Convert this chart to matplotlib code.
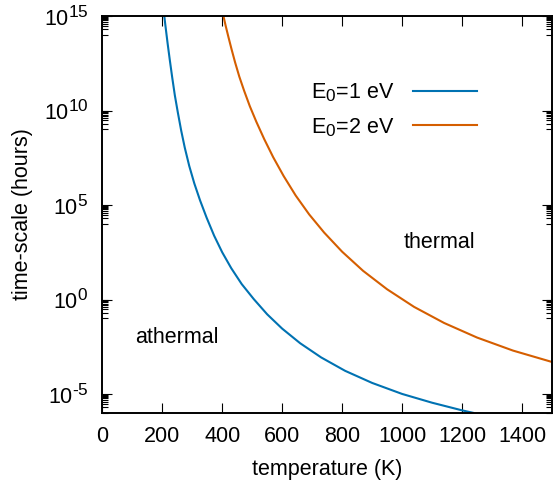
import matplotlib
matplotlib.use("Agg")
import matplotlib.pyplot as plt
import matplotlib._mathtext as _mt
from matplotlib.ticker import FixedLocator, NullLocator, NullFormatter

# ---------------- data ----------------
temp_e1 = [206.7, 212, 218, 225, 233, 242, 252, 263, 275, 290, 307, 326, 348,
           373, 400, 430, 465, 505, 550, 600, 660, 730, 810, 900, 1000, 1100,
           1200, 1237]
time_e1 = [1.0e15, 2.0e14, 3.4e13, 4.9e12, 5.9e11, 6.3e10, 7.8e9, 8.9e8, 1.1e8,
           1.17e7, 1.38e6, 1.78e5, 2.14e4, 2.4e3, 3.16e2, 4.6e1, 6.6e0, 1.07e0,
           1.66e-1, 2.9e-2, 4.9e-3, 8.7e-4, 1.7e-4, 3.9e-5, 1.02e-5, 3.5e-6,
           1.38e-6, 1.02e-6]

temp_e2 = [404, 412, 421, 431, 443, 457, 473, 492, 514, 540, 570, 605, 645, 690,
           740, 800, 870, 950, 1040, 1140, 1250, 1370, 1500]
time_e2 = [1.0e15, 2.8e14, 7.4e13, 1.78e13, 3.5e12, 6.2e11, 1.12e11, 1.7e10,
           2.5e9, 3.1e8, 3.4e7, 3.4e6, 3.2e5, 3.2e4, 3.5e3, 3.4e2, 3.3e1, 3.5e0,
           4.1e-1, 5.8e-2, 9.8e-3, 2.0e-3, 5.0e-4]

series_labels = ["E$_0$=1 eV", "E$_0$=2 eV"]
series_colors = ["#0072b2", "#d55e00"]

xticks = [0, 200, 400, 600, 800, 1000, 1200, 1400]
yticks = [1e-5, 1e0, 1e5, 1e10, 1e15]
ytick_labels = ["$10^{\u20105}$", "$10^{0}$", "$10^{5}$", "$10^{10}$", "$10^{15}$"]

xlabel = "temperature (K)"
ylabel = "time-scale (hours)"
annotations = [("athermal", 250, 1e-2), ("thermal", 1125, 1e3)]

# ---------------- style ----------------
_mt.SHRINK_FACTOR = 0.8
plt.rcParams["font.family"] = ["Liberation Sans", "DejaVu Sans"]
plt.rcParams["mathtext.fontset"] = "custom"
plt.rcParams["mathtext.rm"] = "Liberation Sans"
plt.rcParams["mathtext.it"] = "Liberation Sans:italic"
plt.rcParams["mathtext.bf"] = "Liberation Sans:bold"
plt.rcParams["mathtext.default"] = "regular"
FS = 15.5

fig = plt.figure(figsize=(5.55, 4.86), dpi=100)
ax = fig.add_axes([102.3 / 555, 1 - 413 / 486, (552 - 102.3) / 555, (413 - 16) / 486])

ax.plot(temp_e1, time_e1, color=series_colors[0], lw=1.5, label=series_labels[0])
ax.plot(temp_e2, time_e2, color=series_colors[1], lw=1.5, label=series_labels[1])

ax.set_yscale("log")
ax.set_xlim(0, 1500)
ax.set_ylim(1e-6, 1e15)

ax.xaxis.set_major_locator(FixedLocator(xticks))
ax.xaxis.set_minor_locator(NullLocator())
ax.set_xticklabels([str(v) for v in xticks], fontsize=FS)

ax.yaxis.set_major_locator(FixedLocator(yticks))
minor = [k * m / 10 for m in yticks for k in range(1, 10)]
ax.yaxis.set_minor_locator(FixedLocator(minor))
ax.yaxis.set_minor_formatter(NullFormatter())
ax.set_yticklabels(ytick_labels, fontsize=FS)

ax.tick_params(which="both", direction="in", top=True, right=True)
ax.tick_params(which="major", length=7, width=0.8)
ax.tick_params(axis="x", which="major", pad=9)
ax.tick_params(axis="y", which="major", pad=10)
ax.tick_params(which="minor", length=4.5, width=0.8)
for s in ax.spines.values():
    s.set_linewidth(1.4)

ax.set_xlabel(xlabel, fontsize=FS, labelpad=9)
ax.set_ylabel(ylabel, fontsize=FS, labelpad=8)

for txt, x, y in annotations:
    ax.text(x, y, txt, fontsize=FS, ha="center", va="center")

ax.legend(loc="upper right", bbox_to_anchor=(0.834, 0.835), frameon=False,
          markerfirst=False, fontsize=FS, handlelength=3.0, handletextpad=0.85,
          labelspacing=0.55, borderpad=0, borderaxespad=0)

fig.savefig("out.png", dpi=100)
